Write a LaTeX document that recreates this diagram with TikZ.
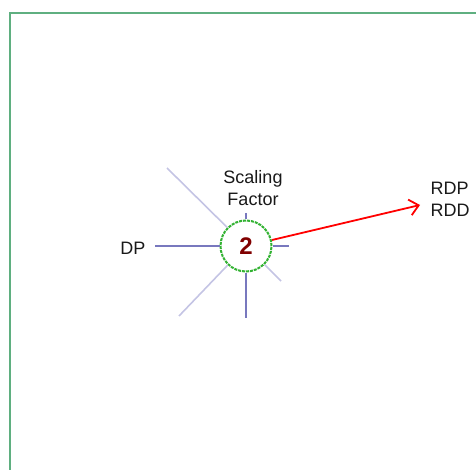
\documentclass[tikz,border=0pt]{standalone}
\usepackage{fontspec}
\setmainfont{Liberation Sans}
\usetikzlibrary{arrows.meta}
\definecolor{frame}{HTML}{5FAF80}
\definecolor{spoke}{HTML}{7878BE}
\definecolor{light}{HTML}{C4C4E4}
\definecolor{ring}{HTML}{33B233}
\definecolor{num}{HTML}{800000}
\tikzset{
  spokeline/.style={draw=spoke, line width=1.6pt},
  lightline/.style={draw=light, line width=1.6pt},
  lbl/.style={font=\fontsize{18}{22}\selectfont, text=black!90, inner sep=0pt, align=center},
  hub/.style={circle, draw=ring, dash pattern=on 3pt off 1pt, line width=2pt, minimum size=51pt, inner sep=0pt, font=\bfseries\fontsize{24}{24}\selectfont, text=num},
  redarrow/.style={draw=red, line width=1.8pt, -{Straight Barb[length=9pt,width=16pt,line width=1.8pt]}}
}
\begin{document}
\begin{tikzpicture}[x=1pt,y=-1pt]
\useasboundingbox (0,0) rectangle (476,470);
\begin{scope}
\clip (0,0) rectangle (476,470);
\draw[frame, line width=1.5pt] (10,13) rectangle (500,500);
\end{scope}
\node[hub] (c) at (246,246) {2};
\node[lbl] (dp) at (133,248) {DP};
\node[lbl] (sf) at (253,188) {Scaling\\Factor};
\node[lbl, align=left] (r) at (450,199) {RDP\\RDD};
\coordinate (ul) at (167,168);
\coordinate (ll) at (179,316);
\coordinate (lr) at (281,281);
\coordinate (tp) at (246,213);
\coordinate (rt) at (289,246);
\coordinate (bt) at (246,318);
\coordinate (dpe) at (155,246);
\coordinate (s) at (272,240);
\coordinate (e) at (420,205);
\draw[lightline] (ul) -- (c);
\draw[lightline] (ll) -- (c);
\draw[lightline] (lr) -- (c);
\draw[spokeline] (dpe) -- (c.west);
\draw[spokeline] (tp) -- (c.north);
\draw[spokeline] (c.east) -- (rt);
\draw[spokeline] (c.south) -- (bt);
\draw[redarrow] (s) -- (e);
\end{tikzpicture}
\end{document}
